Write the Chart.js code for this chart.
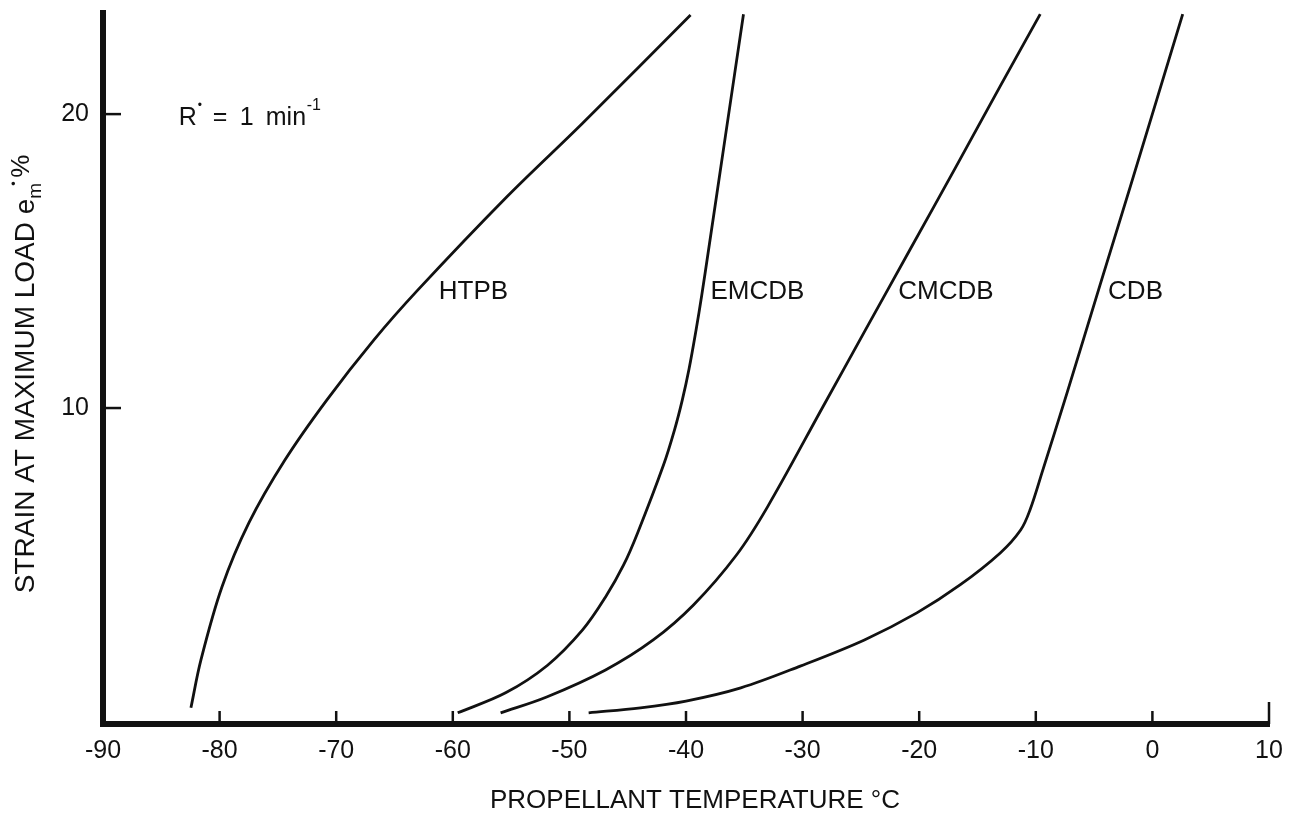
<!DOCTYPE html>
<html><head><meta charset="utf-8">
<script src="https://cdn.jsdelivr.net/npm/chart.js@4.4.1/dist/chart.umd.min.js"></script>
<style>html,body{margin:0;padding:0;background:#fff;}#wrap{width:1295px;height:821px;}</style>
</head><body><div id="wrap"><canvas id="c" width="1295" height="821"></canvas></div>
<script>
// ---- data (temperature °C, strain %) ----
const xTickValues = [-90, -80, -70, -60, -50, -40, -30, -20, -10, 0, 10];
const yTickValues = [10, 20];
const seriesNames = ['HTPB', 'EMCDB', 'CMCDB', 'CDB'];

const htpbT = [-82.46, -81.6, -79.8, -77.49, -74.4, -70.81, -66.78, -63.01, -55.38, -48.87, -39.61];
const htpbS = [-0.2, 1.43, 3.91, 6.09, 8.23, 10.27, 12.31, 14.01, 17.18, 19.69, 23.37];

const emcdbT = [-59.58, -55.47, -51.87, -48.87, -46.9, -45.35, -44.15, -41.93, -40.99, -40.32, -39.74, -39.14, -38.65, -38.07, -36.62, -35.07];
const emcdbS = [-0.37, 0.31, 1.25, 2.45, 3.57, 4.66, 5.75, 8.06, 9.25, 10.27, 11.33, 12.65, 13.84, 15.37, 19.25, 23.4];

const cmcdbT = [-55.9, -51.95, -46.9, -42.81, -39.36, -35.67, -33.02, -28.22, -24.62, -20.76, -16.91, -13.05, -9.62];
const cmcdbS = [-0.37, 0.17, 1.09, 2.11, 3.3, 5.0, 6.63, 10.07, 12.65, 15.41, 18.16, 20.95, 23.4];

const cdbT = [-48.35, -43.9, -40.0, -35.3, -30.2, -24.7, -20.2, -16.5, -13.05, -11.3, -10.5, -9.4, -7.3, -4.52, -1.83, 2.6];
const cdbS = [-0.37, -0.2, 0.03, 0.48, 1.22, 2.11, 3.03, 3.98, 5.07, 5.85, 6.53, 7.89, 10.54, 14.15, 17.62, 23.4];

// label anchors (data coords: left edge, vertical middle)
const labelT = [-61.2, -37.9, -21.8, -3.8];
const labelS = [13.95, 13.95, 13.95, 13.95];

const FONT = '"Liberation Sans", Arial, Helvetica, sans-serif';
const INK = '#111';

function pts(t, s) { return t.map((v, i) => ({ x: v, y: s[i] })); }
const allT = [htpbT, emcdbT, cmcdbT, cdbT];
const allS = [htpbS, emcdbS, cmcdbS, cdbS];

const datasets = seriesNames.map((n, i) => ({
  label: n,
  data: pts(allT[i], allS[i]),
  borderColor: INK,
  borderWidth: 2.8,
  pointRadius: 0,
  fill: false,
  tension: 0.35
}));

const decor = {
  id: 'decor',
  afterDraw(chart) {
    const { ctx, chartArea: a, scales: { x, y } } = chart;
    ctx.save();
    ctx.strokeStyle = INK;
    ctx.fillStyle = INK;
    ctx.lineWidth = 2.5;
    // inward ticks on x axis
    xTickValues.forEach(v => {
      if (v === -90) return;
      const px = x.getPixelForValue(v);
      const len = v === 10 ? 22 : 13;
      ctx.beginPath(); ctx.moveTo(px, a.bottom); ctx.lineTo(px, a.bottom - len); ctx.stroke();
    });
    // inward ticks on y axis
    yTickValues.forEach(v => {
      const py = y.getPixelForValue(v);
      ctx.beginPath(); ctx.moveTo(a.left, py); ctx.lineTo(a.left + 18, py); ctx.stroke();
    });
    // curve labels
    ctx.font = '26px ' + FONT;
    ctx.textBaseline = 'middle';
    ctx.textAlign = 'left';
    seriesNames.forEach((n, i) => {
      ctx.fillText(n, x.getPixelForValue(labelT[i]), y.getPixelForValue(labelS[i]));
    });
    // R annotation
    const rx = x.getPixelForValue(-83.5), base = y.getPixelForValue(19.93) + 9;
    ctx.textBaseline = 'alphabetic';
    ctx.font = '25px ' + FONT;
    ctx.fillText('R', rx, base);
    ctx.font = '12px ' + FONT;
    ctx.fillText('•', rx + 19, base - 16);
    ctx.font = '25px ' + FONT;
    ctx.fillText('=', rx + 34, base);
    ctx.fillText('1', rx + 61, base);
    ctx.fillText('min', rx + 87, base);
    ctx.font = '16px ' + FONT;
    ctx.fillText('-1', rx + 128, base - 15);

    // x axis title
    ctx.font = '26px ' + FONT;
    ctx.textAlign = 'center';
    ctx.textBaseline = 'middle';
    ctx.fillText('PROPELLANT TEMPERATURE °C', (a.left + a.right) / 2 + 9, 801);

    // y axis title (rotated, with subscript/superscript)
    ctx.save();
    ctx.translate(24, 374);
    ctx.rotate(-Math.PI / 2);
    ctx.textAlign = 'left';
    ctx.textBaseline = 'alphabetic';
    ctx.font = '28px ' + FONT;
    const main = 'STRAIN AT MAXIMUM LOAD e';
    const wm = ctx.measureText(main).width;
    ctx.font = '19px ' + FONT;
    const ws = ctx.measureText('m').width;
    ctx.font = '26px ' + FONT;
    const wp = ctx.measureText('%').width;
    const total = wm + ws + 5 + wp;
    let cx = -total / 2;
    const bl = 10;
    ctx.font = '28px ' + FONT;
    ctx.fillText(main, cx, bl);
    cx += wm;
    ctx.font = '19px ' + FONT;
    ctx.fillText('m', cx, bl + 7);
    ctx.font = '13px ' + FONT;
    ctx.fillText('•', cx + ws - 3, bl - 16);
    cx += ws + 5;
    ctx.font = '26px ' + FONT;
    ctx.fillText('%', cx, bl - 5);
    ctx.restore();
    ctx.restore();
  }
};

new Chart(document.getElementById('c'), {
  type: 'line',
  data: { datasets },
  options: {
    responsive: false,
    animation: false,
    devicePixelRatio: 1,
    layout: { padding: { top: 13, right: 26, left: 0, bottom: 0 } },
    plugins: { legend: { display: false }, tooltip: { enabled: false } },
    scales: {
      x: {
        type: 'linear', min: -90, max: 10,
        afterBuildTicks: s => { s.ticks = xTickValues.map(v => ({ value: v })); },
        afterFit: s => { s.height = 97; s.paddingLeft = 0; s.paddingRight = 0; },
        grid: { display: false, drawTicks: false },
        border: { display: true, color: INK, width: 6 },
        ticks: { autoSkip: false, maxRotation: 0, padding: 12, color: INK, font: { family: FONT, size: 25 } }
      },
      y: {
        type: 'linear', min: -0.75, max: 23.44,
        afterBuildTicks: s => { s.ticks = yTickValues.map(v => ({ value: v })); },
        afterFit: s => { s.width = 103; s.paddingTop = 0; s.paddingBottom = 0; },
        grid: { display: false, drawTicks: false },
        border: { display: true, color: INK, width: 6 },
        ticks: { autoSkip: false, padding: 14, color: INK, font: { family: FONT, size: 25 } }
      }
    }
  },
  plugins: [decor]
});
</script></body></html>
